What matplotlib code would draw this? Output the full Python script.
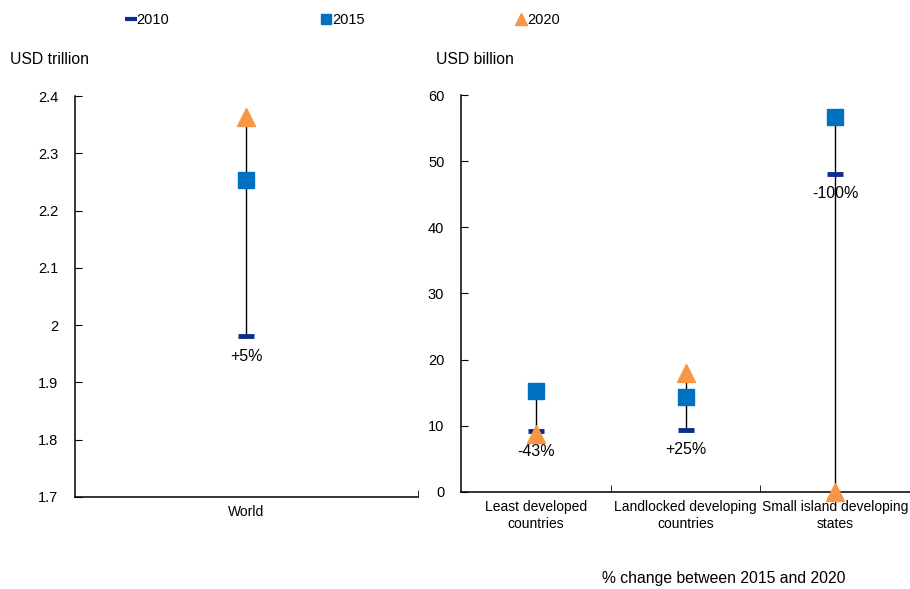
import numpy as np
import matplotlib.pyplot as plt
from matplotlib.lines import Line2D

plt.rcParams['font.family'] = ['Liberation Sans', 'DejaVu Sans']
plt.rcParams['font.size'] = 10.5
plt.rcParams['axes.linewidth'] = 1.1

world_cat = ["World"]
world_2010 = [1.981]
world_2015 = [2.253]
world_2020 = [2.364]
world_lbl = ["+5%"]

grp_cat = ["Least developed\ncountries", "Landlocked developing\ncountries",
           "Small island developing\nstates"]
grp_2010 = [9.2, 9.4, 48.1]
grp_2015 = [15.3, 14.4, 56.7]
grp_2020 = [8.7, 18.0, 0.0]
grp_lbl = ["-43%", "+25%", "-100%"]

c10 = "#0b2d8f"
c15 = "#0070c0"
c20 = "#f79646"


def draw(ax, cats, v10, v15, v20, lbls):
    x = np.arange(len(cats))
    lo = np.minimum(np.minimum(v10, v15), v20)
    hi = np.maximum(np.maximum(v10, v15), v20)
    ax.vlines(x, lo, hi, color="black", lw=1, zorder=1)
    ax.plot(x, v10, ls="none", marker="_", ms=12, mew=3.5, color=c10, zorder=3)
    ax.plot(x, v15, ls="none", marker="s", ms=11, color=c15, zorder=3)
    ax.plot(x, v20, ls="none", marker="^", ms=13, color=c20, zorder=4, clip_on=False)
    for xi, v, t in zip(x, v10, lbls):
        ax.annotate(t, (xi, v), xytext=(0, -9), textcoords="offset points",
                    ha="center", va="top", fontsize=11.5)
    ax.set_xlim(-0.5, len(cats) - 0.5)
    ax.set_xticks(x, cats, fontsize=10)
    ax.set_xticks(np.arange(1, len(cats) + 1) - 0.5, minor=True)
    ax.tick_params(axis="x", which="major", length=0, pad=6)
    ax.tick_params(axis="x", which="minor", direction="in", length=5)
    ax.tick_params(axis="y", direction="in", length=5, pad=12)
    for s in ["top", "right"]:
        ax.spines[s].set_visible(False)


fig = plt.figure(figsize=(9.1, 5.89), dpi=100)
ax1 = fig.add_axes([0.0824, 0.1562, 0.3766, 0.6808])
ax2 = fig.add_axes([0.5066, 0.1647, 0.4934, 0.674])

draw(ax1, world_cat, world_2010, world_2015, world_2020, world_lbl)
ax1.set_ylim(1.7, 2.4)
ax1.set_yticks([1.7, 1.8, 1.9, 2.0, 2.1, 2.2, 2.3, 2.4], ["1.7", "1.8", "1.9", "2", "2.1", "2.2", "2.3", "2.4"])

draw(ax2, grp_cat, grp_2010, grp_2015, grp_2020, grp_lbl)
ax2.set_ylim(0, 60)
ax2.set_yticks(range(0, 61, 10))

fig.text(10 / 910, 1 - 59 / 589, "USD trillion", ha="left", va="center", fontsize=11.3)
fig.text(436 / 910, 1 - 59 / 589, "USD billion", ha="left", va="center", fontsize=11.3)
fig.text(724 / 910, 1 - 578 / 589, "% change between 2015 and 2020", ha="center", va="center", fontsize=11.3)

handles = [
    Line2D([], [], ls="none", marker="_", ms=8, mew=3, color=c10),
    Line2D([], [], ls="none", marker="s", ms=7, color=c15),
    Line2D([], [], ls="none", marker="^", ms=8, color=c20),
]
fig.legend(handles, ["2010", "2015", "2020"], ncol=3, loc="center left",
           bbox_to_anchor=(127 / 910, 1 - 20 / 589), frameon=False, fontsize=10.5,
           handlelength=0.5, handletextpad=0.15, columnspacing=10.5,
           borderaxespad=0, borderpad=0)

fig.savefig("out.png", dpi=100)
